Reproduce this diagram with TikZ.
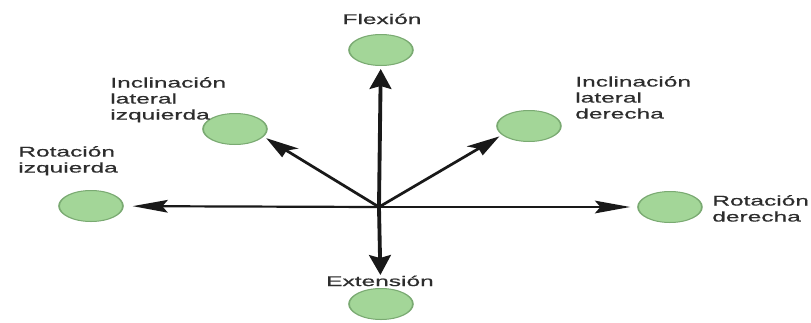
\documentclass[tikz,border=0pt]{standalone}
\usepackage{fontspec}
\setmainfont[FakeBold=0.5]{Liberation Sans}
\usetikzlibrary{shapes.geometric,arrows.meta}
\definecolor{blobfill}{RGB}{163,214,152}
\definecolor{blobdraw}{RGB}{122,170,114}
\definecolor{txt}{RGB}{45,45,45}
\definecolor{arr}{RGB}{25,25,25}
\tikzset{
  blob/.style={ellipse, draw=blobdraw, fill=blobfill, line width=1pt,
    minimum width=36.5pt, minimum height=31pt, inner sep=0pt},
  lbl/.style={text=txt, inner sep=0pt, align=left,
    font=\fontsize{14}{16}\selectfont},
  axis/.style={draw=arr, line width=2.2pt,
    -{Stealth[length=20pt,width=12.5pt,inset=3pt]}}
}
\begin{document}
\begin{tikzpicture}[x=1pt,y=-1pt]
\useasboundingbox (0,0) rectangle (811,322);
\begin{scope}[x=0.5714pt, transform canvas={xscale=1.75}]
  \coordinate (c) at (379,207);
  \node[blob] (flex) at (381,50) {};
  \node[blob] (incizq) at (235,129) {};
  \node[blob] (incder) at (529,126) {};
  \node[blob] (rotizq) at (91,206) {};
  \node[blob] (rotder) at (670,207) {};
  \node[blob] (ext) at (381,304) {};
  \node[lbl, anchor=base] (tflex) at (382,24) {Flexión};
  \node[lbl, anchor=north west] (tincizq) at (110,77) {Inclinación\\lateral\\izquierda};
  \node[lbl, anchor=north west] (tincder) at (575,76) {Inclinación\\lateral\\derecha};
  \node[lbl, anchor=north west] (trotizq) at (18,146) {Rotación\\izquierda};
  \node[lbl, anchor=north west] (trotder) at (712,195) {Rotación\\derecha};
  \node[lbl, anchor=base] (text) at (380,286) {Extensión};
  \draw[axis, shorten >=3pt] (c) -- (flex);
  \draw[axis, shorten >=13pt] (c) -- (ext);
  \draw[axis, shorten >=5pt] (c) -- (rotizq);
  \draw[axis, shorten >=4pt] (c) -- (rotder);
  \draw[axis, shorten >=2pt] (c) -- (incizq.-25);
  \draw[axis, shorten >=2pt] (c) -- (incder.-150);
\end{scope}
\end{tikzpicture}
\end{document}
